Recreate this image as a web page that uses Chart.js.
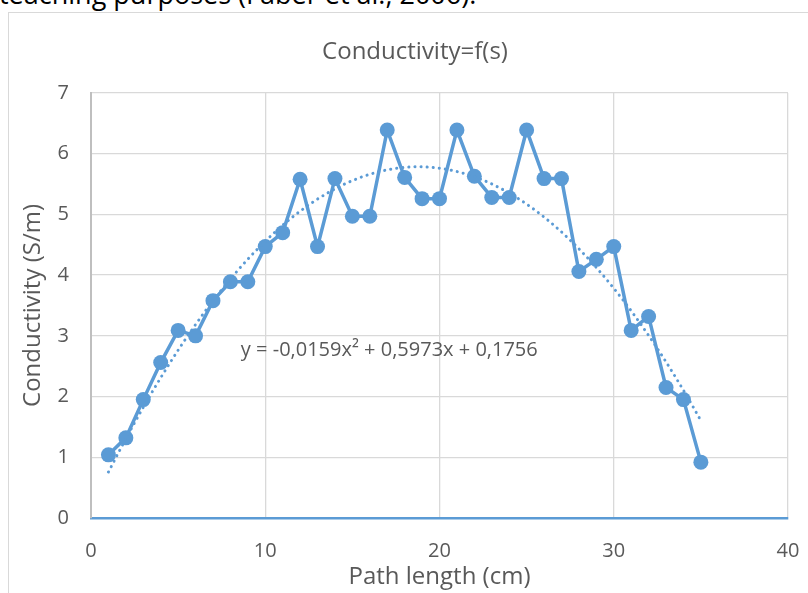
<!DOCTYPE html>
<html>
<head>
<meta charset="utf-8">
<script src="https://cdn.jsdelivr.net/npm/chart.js@4.4.0/dist/chart.umd.min.js"></script>
<style>
  body { margin: 0; background: #fff; overflow: hidden; }
  #wrap { position: relative; width: 808px; height: 593px; overflow: hidden; }
  #para { position: absolute; left: -1px; top: -25px; font-family: "Open Sans", sans-serif; font-size: 27px; color: #000; white-space: nowrap; }
  #frame { position: absolute; left: 8px; top: 12px; width: 900px; height: 700px; border: 1.5px solid #d9d9d9; }
  canvas { position: absolute; left: 0; top: 0; }
</style>
</head>
<body>
<div id="wrap">
  <div id="para">teaching purposes (Faber et al., 2006).</div>
  <div id="frame"></div>
  <canvas id="chart" width="808" height="593"></canvas>
</div>
<script>
// values
var pathLength = [1, 2, 3, 4, 5, 6, 7, 8, 9, 10, 11, 12, 13, 14, 15, 16, 17, 18,
                  19, 20, 21, 22, 23, 24, 25, 26, 27, 28, 29, 30, 31, 32, 33, 34, 35];
var conductivity = [1.04, 1.32, 1.95, 2.56, 3.09, 3.00, 3.58, 3.89, 3.89, 4.47,
                    4.70, 5.58, 4.47, 5.59, 4.97, 4.97, 6.39, 5.61, 5.26, 5.26,
                    6.39, 5.63, 5.28, 5.28, 6.39, 5.59, 5.59, 4.06, 4.26, 4.47,
                    3.09, 3.32, 2.15, 1.95, 0.92];
// polynomial trendline as printed on the chart (a, b, c of ax^2 + bx + c)
var trendCoef = [-0.0159, 0.5973, 0.1756];
var trendLabel = "y = -0,0159x\u00b2 + 0,5973x + 0,1756";
var chartTitle = "Conductivity=f(s)";
var xTicks = [0, 10, 20, 30, 40];
var yTicks = [0, 1, 2, 3, 4, 5, 6, 7];

var points = pathLength.map(function (x, i) { return { x: x, y: conductivity[i] }; });
var trend = [];
for (var t = pathLength[0]; t <= pathLength[pathLength.length - 1] + 1e-9; t += 0.5) {
    trend.push({ x: t, y: trendCoef[0] * t * t + trendCoef[1] * t + trendCoef[2] });
}

var blue = "#5b9bd5";
var grey = "#595959";
var font = "'Open Sans', sans-serif";

// title (centred on the outer frame, not the canvas) and trendline equation
var chartTexts = {
    id: "chartTexts",
    afterDatasetsDraw: function (chart) {
        var c = chart.ctx;
        c.save();
        c.fillStyle = grey;
        c.textBaseline = "middle";
        c.font = "24px " + font;
        c.textAlign = "center";
        c.fillText(chartTitle, 415, 52);
        c.font = "20px " + font;
        c.textAlign = "left";
        c.fillText(trendLabel, chart.scales.x.getPixelForValue(8.6), chart.scales.y.getPixelForValue(2.77));
        c.restore();
    }
};

new Chart(document.getElementById("chart").getContext("2d"), {
    type: "scatter",
    data: {
        datasets: [
        {
            data: trend,
            showLine: true,
            borderColor: blue,
            borderWidth: 3,
            borderDash: [0.1, 6],
            borderCapStyle: "round",
            pointRadius: 0,
            order: 0
        },
        {
            data: points,
            showLine: true,
            borderColor: blue,
            backgroundColor: blue,
            borderWidth: 3.5,
            pointRadius: 7.5,
            pointBorderWidth: 0,
            order: 1
        }]
    },
    options: {
        responsive: false,
        animation: false,
        layout: { padding: { left: 0, top: 93, right: 20, bottom: 0 } },
        plugins: {
            legend: { display: false },
            tooltip: { enabled: false },
            title: { display: false }
        },
        scales: {
            x: {
                type: "linear",
                min: 0,
                max: 40,
                afterBuildTicks: function (s) { s.ticks = xTicks.map(function (v) { return { value: v }; }); },
                afterFit: function (s) { s.height = 75; },
                grid: { color: "#d9d9d9", lineWidth: 1.3, drawTicks: true, tickLength: 21, tickColor: "transparent" },
                border: { color: blue, width: 2.5 },
                ticks: { color: grey, font: { family: font, size: 20 }, padding: 0, maxRotation: 0 },
                title: { display: true, text: "Path length (cm)", color: grey,
                         font: { family: font, size: 24 }, padding: { top: 0, bottom: 1 } }
            },
            y: {
                min: 0,
                max: 7,
                afterBuildTicks: function (s) { s.ticks = yTicks.map(function (v) { return { value: v }; }); },
                afterFit: function (s) { s.width = 91; },
                grid: { color: "#d9d9d9", lineWidth: 1.3, drawTicks: false },
                border: { color: "#bfbfbf", width: 2 },
                ticks: { color: grey, font: { family: font, size: 20 }, padding: 22 },
                title: { display: true, text: "Conductivity (S/m)", color: grey,
                         font: { family: font, size: 24 }, padding: { top: 19, bottom: 0 } }
            }
        }
    },
    plugins: [chartTexts]
});
</script>
</body>
</html>
